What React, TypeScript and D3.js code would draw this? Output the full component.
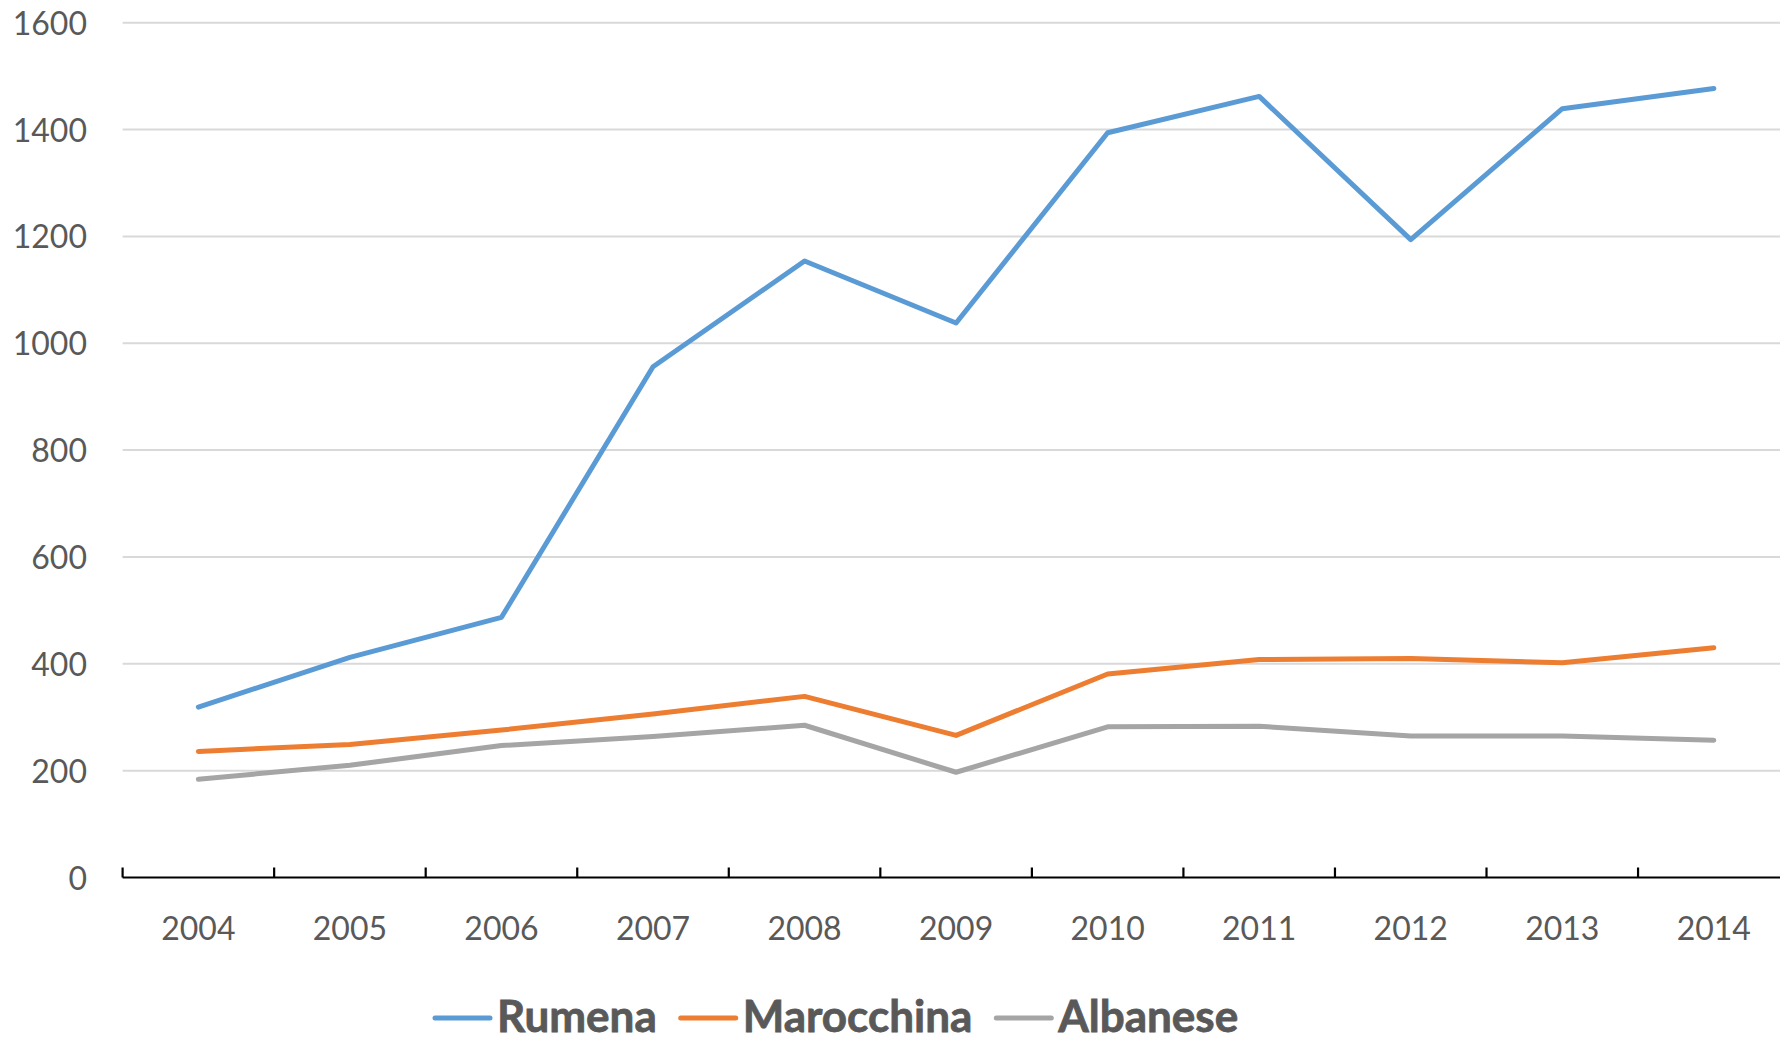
import React, { useEffect, useRef, useState } from "react";
import * as d3 from "d3";

const years = ["2004", "2005", "2006", "2007", "2008", "2009", "2010", "2011", "2012", "2013", "2014"];
const rumena = [319, 412, 487, 956, 1154, 1038, 1394, 1462, 1194, 1439, 1477];
const marocchina = [236, 249, 276, 306, 339, 266, 381, 408, 410, 402, 430];
const albanese = [184, 210, 247, 264, 285, 197, 282, 283, 265, 265, 257];
const yTicks = [0, 200, 400, 600, 800, 1000, 1200, 1400, 1600];
const seriesNames = ["Rumena", "Marocchina", "Albanese"];
const seriesColors = ["#5B9BD5", "#ED7D31", "#A5A5A5"];

const W = 1780;
const H = 1038;
const FONT = "Lato, 'Open Sans', sans-serif";
const TEXT = "#595959";

export default function App() {
  const series = [rumena, marocchina, albanese];
  const x = d3.scaleBand<string>().domain(years).range([122.6, 1789.6]).padding(0);
  const y = d3.scaleLinear().domain([0, 1600]).range([877.5, 22.7]);
  const line = d3
    .line<number>()
    .x((_, i) => (x(years[i]) as number) + x.bandwidth() / 2)
    .y((d) => y(d));

  const legendRef = useRef<SVGGElement>(null);
  const [legendX, setLegendX] = useState<number[]>([435, 683, 1002]);
  useEffect(() => {
    const g = legendRef.current;
    if (!g) return;
    const texts = Array.from(g.querySelectorAll("text")) as SVGTextElement[];
    const lineLen = 55;
    const gapText = 7;
    const gapItem = 24;
    let cur = 435;
    const xs: number[] = [];
    texts.forEach((t) => {
      xs.push(cur);
      cur += lineLen + gapText + t.getComputedTextLength() + gapItem;
    });
    if (xs.map((v) => v.toFixed(1)).join(",") !== legendX.map((v) => v.toFixed(1)).join(",")) setLegendX(xs);
  }, [legendX]);

  const ticksX = d3.range(years.length).map((i) => x(years[i]) as number);

  return (
    <svg
      width={W}
      height={H}
      style={{ position: "fixed", left: 0, top: 0, background: "#fff" }}
    >
      <rect x={0} y={0} width={W} height={H} fill="#fff" />
      {yTicks
        .filter((t) => t > 0)
        .map((t) => (
          <line key={t} x1={122.6} x2={W} y1={y(t)} y2={y(t)} stroke="#D9D9D9" strokeWidth={2} />
        ))}
      {yTicks.map((t) => (
        <text
          key={t}
          x={87}
          y={y(t) + 12}
          textAnchor="end"
          fontFamily={FONT}
          fontSize={32}
          fill={TEXT}
        >
          {t}
        </text>
      ))}
      <line x1={122.6} x2={W} y1={y(0)} y2={y(0)} stroke="#000" strokeWidth={2.2} />
      {ticksX.map((tx, i) => (
        <line key={i} x1={tx} x2={tx} y1={y(0)} y2={y(0) - 10} stroke="#000" strokeWidth={2.2} />
      ))}
      {years.map((yr) => (
        <text
          key={yr}
          x={(x(yr) as number) + x.bandwidth() / 2}
          y={940}
          textAnchor="middle"
          fontFamily={FONT}
          fontSize={32}
          fill={TEXT}
        >
          {yr}
        </text>
      ))}
      {series.map((s, i) => (
        <path
          key={seriesNames[i]}
          d={line(s) || ""}
          fill="none"
          stroke={seriesColors[i]}
          strokeWidth={5}
          strokeLinecap="round"
          strokeLinejoin="round"
        />
      ))}
      <g ref={legendRef}>
        {seriesNames.map((n, i) => (
          <g key={n}>
            <line
              x1={legendX[i]}
              x2={legendX[i] + 55}
              y1={1018}
              y2={1018}
              stroke={seriesColors[i]}
              strokeWidth={5}
              strokeLinecap="round"
            />
            <text
              x={legendX[i] + 62}
              y={1032}
              fontFamily={FONT}
              fontSize={44}
              fontWeight="bold"
              fill={TEXT}
              stroke={TEXT}
              strokeWidth={0.8}
            >
              {n}
            </text>
          </g>
        ))}
      </g>
    </svg>
  );
}
